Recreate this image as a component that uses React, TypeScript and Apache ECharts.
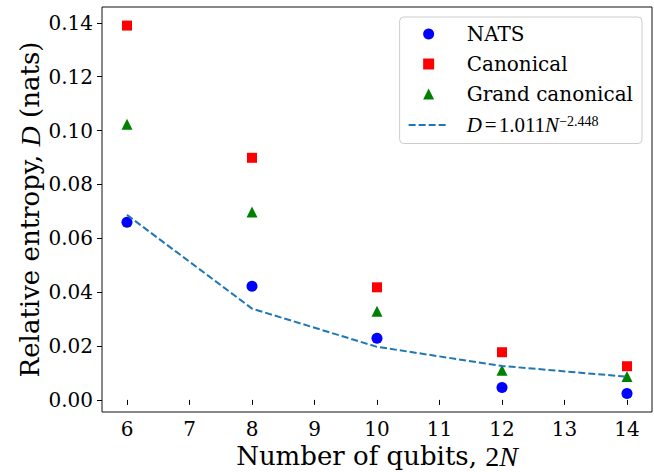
import React, { useEffect, useRef } from 'react';
import * as echarts from 'echarts';

const qubits = [6, 8, 10, 12, 14];
const natsValues = [0.066, 0.0422, 0.0229, 0.0046, 0.0024];
const canonicalValues = [0.139, 0.0899, 0.0418, 0.0177, 0.0125];
const grandCanonicalValues = [0.1024, 0.0698, 0.0329, 0.011, 0.0087];
const fitValues = [0.0687, 0.0339, 0.0197, 0.0126, 0.0086];
const xTicks = [6, 7, 8, 9, 10, 11, 12, 13, 14];
const yTicks = [0, 0.02, 0.04, 0.06, 0.08, 0.1, 0.12, 0.14];

const FONT = 'DejaVu Serif';
const MATH = 'Liberation Serif';

export default function App() {
  const ref = useRef<HTMLDivElement>(null);
  useEffect(() => {
    if (!ref.current) return;
    const chart = echarts.init(ref.current, null, { renderer: 'svg' });
    const pairs = (vals: number[]) => qubits.map((q, i) => [q, vals[i]]);
    const nameRich = {
      n: { fontFamily: FONT, fontSize: 26, color: '#000', lineHeight: 24 },
      i: { fontFamily: MATH, fontSize: 28, fontStyle: 'italic', color: '#000', lineHeight: 24 },
      u: { fontFamily: MATH, fontSize: 28, color: '#000', lineHeight: 24 },
    };
    chart.setOption({
      animation: false,
      backgroundColor: '#fff',
      textStyle: { fontFamily: FONT },
      grid: {
        left: 102,
        right: 2,
        top: 7,
        bottom: 60,
        containLabel: false,
        outerBoundsMode: 'none',
        show: true,
        borderColor: '#111',
        borderWidth: 1,
        backgroundColor: 'transparent',
      },
      xAxis: {
        type: 'value',
        min: 5.6,
        max: 14.4,
        name: '{n|Number of qubits, }{u|2}{i|N}',
        nameLocation: 'middle',
        nameGap: 32,
        nameMoveOverlap: false,
        nameTextStyle: {
          fontFamily: FONT,
          fontSize: 26,
          color: '#000',
          lineHeight: 24,
          rich: nameRich,
        },
        splitLine: { show: false },
        axisLine: { show: false },
        axisTick: { show: true, inside: false, length: 5, customValues: xTicks, lineStyle: { color: '#000', width: 1 } },
        axisLabel: {
          customValues: xTicks,
          margin: 7,
          fontFamily: FONT,
          fontSize: 20,
          lineHeight: 20,
          color: '#000',
        },
      },
      yAxis: {
        type: 'value',
        min: -0.0045,
        max: 0.1459,
        name: '{n|Relative entropy, }{i|D}{n| (nats)}',
        nameLocation: 'middle',
        nameGap: 60,
        nameRotate: 90,
        nameMoveOverlap: false,
        nameTextStyle: {
          fontFamily: FONT,
          fontSize: 26,
          color: '#000',
          lineHeight: 24,
          rich: nameRich,
        },
        splitLine: { show: false },
        axisLine: { show: false },
        axisTick: { show: true, inside: false, length: 5, customValues: yTicks, lineStyle: { color: '#000', width: 1 } },
        axisLabel: {
          customValues: yTicks,
          margin: 9,
          fontFamily: FONT,
          fontSize: 20,
          lineHeight: 20,
          color: '#000',
          formatter: (v: number) => v.toFixed(2),
        },
      },
      legend: {
        orient: 'vertical',
        right: 12,
        top: 17,
        padding: [7, 9, 8, 8],
        itemWidth: 40,
        itemHeight: 11,
        itemGap: 10,
        backgroundColor: 'rgba(255,255,255,0.8)',
        borderColor: '#ccc',
        borderWidth: 1,
        borderRadius: 4,
        data: [
          { name: 'NATS', icon: 'circle' },
          { name: 'Canonical', icon: 'path://M0,0H10V10H0Z' },
          { name: 'Grand canonical', icon: 'path://M5,0L10,10H0Z' },
          { name: 'fit', itemStyle: { opacity: 0 } },
        ],
        formatter: (name: string) =>
          name === 'fit' ? '{i|D}{e|=}{m|1.011}{i|N}{s|−2.448}' : '{t|' + name + '}',
        textStyle: {
          fontFamily: FONT,
          fontSize: 20,
          color: '#000',
          padding: [0, 0, 0, 13],
          rich: {
            t: { fontFamily: FONT, fontSize: 20, color: '#000', lineHeight: 22 },
            i: { fontFamily: MATH, fontSize: 21, fontStyle: 'italic', color: '#000', lineHeight: 22 },
            e: { fontFamily: MATH, fontSize: 21, color: '#000', lineHeight: 22, padding: [0, 2, 0, 3] },
            m: { fontFamily: MATH, fontSize: 21, color: '#000', lineHeight: 22 },
            s: { fontFamily: MATH, fontSize: 14, color: '#000', lineHeight: 14, verticalAlign: 'top' },
          },
        },
      },
      series: [
        {
          name: 'NATS',
          type: 'scatter',
          data: pairs(natsValues),
          symbol: 'circle',
          symbolSize: 11,
          itemStyle: { color: '#0000ff', opacity: 1 },
        },
        {
          name: 'Canonical',
          type: 'scatter',
          data: pairs(canonicalValues),
          symbol: 'rect',
          symbolSize: 10,
          itemStyle: { color: '#ff0000', opacity: 1 },
        },
        {
          name: 'Grand canonical',
          type: 'scatter',
          data: pairs(grandCanonicalValues),
          symbol: 'triangle',
          symbolSize: 11,
          itemStyle: { color: '#008000', opacity: 1 },
        },
        {
          name: 'fit',
          type: 'line',
          data: pairs(fitValues),
          symbol: 'none',
          lineStyle: { color: '#1f77b4', width: 2, type: [7, 3] },
          itemStyle: { color: '#1f77b4' },
        },
      ],
    });
    return () => chart.dispose();
  }, []);
  return (
    <div
      ref={ref}
      style={{ position: 'fixed', left: 0, top: 0, width: 654, height: 472, background: '#fff' }}
    />
  );
}
